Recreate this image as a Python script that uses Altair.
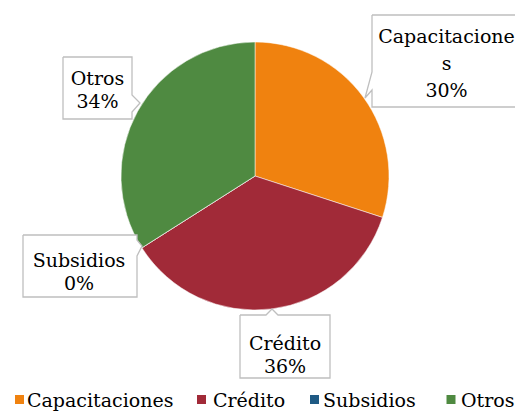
import altair as alt
import pandas as pd

# ---- data ----
categories = ["Capacitaciones", "Crédito", "Subsidios", "Otros"]
values = [30, 36, 0, 34]
colors = ["#F0820F", "#A12A38", "#1F5A84", "#4F8A41"]

# ---- layout (image pixel coordinates, page margin 8) ----
OFF = 8
W, H = 507, 404
CX, CY, R = 255 - OFF, 176 - OFF, 134
FONT = "DejaVu Serif"
FS = 19

callouts = {
    "Capacitaciones": dict(poly=[(372, 15), (521, 15), (521, 107), (372, 107), (372, 90), (365, 98), (372, 72), (372, 15)],
                           cx=446.5, cy=70, lh=27, wrap=13),
    "Crédito": dict(poly=[(240, 315), (266, 315), (272, 309), (278, 315), (330, 315), (330, 378), (240, 378), (240, 315)],
                    cx=285, cy=361.5, lh=23, wrap=20),
    "Subsidios": dict(poly=[(23, 235), (137, 235), (137, 240), (142, 246), (137, 256), (137, 297), (23, 297), (23, 235)],
                      cx=79, cy=278.5, lh=23, wrap=20),
    "Otros": dict(poly=[(63, 57), (132, 57), (132, 95), (140, 103), (132, 112), (132, 119), (63, 119), (63, 57)],
                  cx=97.5, cy=96.5, lh=23, wrap=20),
}
# legend entries: square centre x and label start x (image px)
legend_sym_x = [19.5, 201.5, 314.5, 451]
legend_lab_x = [27, 213, 323, 461]
LEG_SYM_Y, LEG_BASE_Y = 399.5, 407

total = sum(values)
pie_df = pd.DataFrame({"cat": categories, "value": values, "idx": list(range(len(categories)))})

poly_rows, text_rows = [], []
for cat, v in zip(categories, values):
    c = callouts[cat]
    for k, (px, py) in enumerate(c["poly"]):
        poly_rows.append({"cat": cat, "k": k, "px": px - OFF, "py": py - OFF})
    name = cat
    lines = [name[i:i + c["wrap"]] for i in range(0, len(name), c["wrap"])]
    lines.append(f"{round(100 * v / total)}%")
    n = len(lines)
    for i, t in enumerate(lines):
        text_rows.append({"cat": cat, "t": t, "px": c["cx"] - OFF,
                          "py": c["cy"] + (i - (n - 1) / 2) * c["lh"] - OFF})

poly_df = pd.DataFrame(poly_rows)
text_df = pd.DataFrame(text_rows)
leg_df = pd.DataFrame({
    "cat": categories,
    "sx": [v - OFF for v in legend_sym_x],
    "lx": [v - OFF for v in legend_lab_x],
    "sy": LEG_SYM_Y - OFF,
    "ly": LEG_BASE_Y - OFF,
})

xs = alt.Scale(domain=[0, W], range=[0, W])
ys = alt.Scale(domain=[0, H], range=[0, H])
cs = alt.Scale(domain=categories, range=colors)

pie = alt.Chart(pie_df).mark_arc(radius=R, stroke="white", strokeWidth=0.5).encode(
    theta=alt.Theta("value:Q", stack=True),
    color=alt.Color("cat:N", scale=cs, sort=categories, legend=None),
    order=alt.Order("idx:Q"),
    x=alt.value(CX),
    y=alt.value(CY),
)

boxes = alt.Chart(poly_df).mark_line(fill="white", stroke="#BFBFBF", strokeWidth=1.3,
                                     strokeJoin="miter").encode(
    x=alt.X("px:Q", scale=xs, axis=None),
    y=alt.Y("py:Q", scale=ys, axis=None),
    detail="cat:N",
    order="k:Q",
)

texts = alt.Chart(text_df).mark_text(font=FONT, fontSize=FS, baseline="alphabetic", align="center",
                                     color="black").encode(
    x=alt.X("px:Q", scale=xs, axis=None),
    y=alt.Y("py:Q", scale=ys, axis=None),
    text="t:N",
)

leg_sym = alt.Chart(leg_df).mark_square(size=81, opacity=1, strokeWidth=0).encode(
    x=alt.X("sx:Q", scale=xs, axis=None),
    y=alt.Y("sy:Q", scale=ys, axis=None),
    color=alt.Color("cat:N", scale=cs, legend=None),
)

leg_txt = alt.Chart(leg_df).mark_text(font=FONT, fontSize=FS, baseline="alphabetic", align="left",
                                      color="black").encode(
    x=alt.X("lx:Q", scale=xs, axis=None),
    y=alt.Y("ly:Q", scale=ys, axis=None),
    text="cat:N",
)

chart = alt.layer(pie, boxes, texts, leg_sym, leg_txt).properties(
    width=W, height=H, padding=0, autosize="none"
).configure_view(stroke=None)

chart.save("out.html", embed_options={"renderer": "svg", "actions": False})
